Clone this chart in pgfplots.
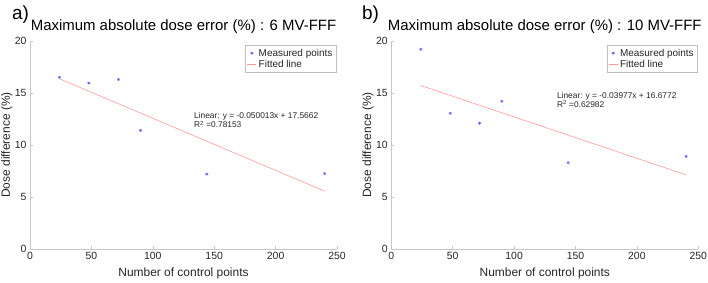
\documentclass[border=0pt]{standalone}
\usepackage{fontspec}
\setmainfont{Liberation Sans}
\usepackage{pgfplots}
\pgfplotsset{compat=1.18}
\definecolor{axgray}{gray}{0.78}
\definecolor{txtgray}{gray}{0.15}
\definecolor{mblue}{rgb}{0.35,0.35,1}
\definecolor{lred}{rgb}{1,0.6,0.6}
\begin{document}
\begin{tikzpicture}
\path[use as bounding box] (0bp,0bp) rectangle (708bp,283bp);
\pgfplotsset{
 mystyle/.style={
  width=307bp, height=208bp, scale only axis,
  anchor=south west,
  xmin=0,xmax=250,ymin=0,ymax=20,
  axis lines*=left,
  axis line style={draw=axgray, line width=0.6bp},
  xtick={0,50,...,250}, ytick={0,5,...,20},
  tick align=inside, major tick length=2.5bp,
  tick style={draw=axgray, line width=0.6bp},
  ticklabel style={font=\fontsize{10.5}{12}\selectfont, text=txtgray},
  /pgf/number format/assume math mode=true,
  xlabel={Number of control points}, ylabel={Dose difference (\%)},
  xlabel style={at={(axis description cs:0.5,-0.117)}, anchor=center, font=\fontsize{12}{14}\selectfont, text=txtgray},
  ylabel style={at={(axis description cs:-0.076,0.5)}, anchor=center, font=\fontsize{12}{14}\selectfont, text=txtgray},
  title style={font=\fontsize{15}{17}\selectfont, at={(axis description cs:0.5,1)}, anchor=base, yshift=5bp},
  legend style={at={(0.997,0.98)}, anchor=north east, draw=black!25, font=\fontsize{10}{11.5}\selectfont, inner sep=1.5bp, row sep=-1.5bp, text=txtgray},
  legend cell align=left,
  legend image code/.code={\draw[#1] (0bp,0bp) -- (9bp,0bp);},
 },
 ptstyle/.style={only marks, mark=asterisk, mark size=1.6bp, color=mblue, mark options={line width=0.5bp},
   legend image code/.code={\draw[mark repeat=2,mark phase=2] plot coordinates {(0bp,0bp) (4.5bp,0bp) (9bp,0bp)};}},
 lnstyle/.style={no marks, color=lred, line width=0.6bp},
}
\begin{axis}[mystyle, at={(30bp,34bp)}, title={Maximum absolute dose error (\%) : 6 MV-FFF}]
\addplot[ptstyle] coordinates {(24,16.5) (48,15.95) (72,16.3) (90,11.4) (144,7.2) (240,7.25)};
\addlegendentry{Measured points}
\addplot[lnstyle] coordinates {(24,16.3659) (240,5.5631)};
\addlegendentry{Fitted line}
\node[anchor=base west, font=\fontsize{8.4}{10}\selectfont, text=txtgray, inner sep=0pt] at (axis cs:133.5,12.5) {Linear: y = -0.050013x + 17.5662};
\node[anchor=base west, font=\fontsize{8.4}{10}\selectfont, text=txtgray, inner sep=0pt] at (axis cs:133.5,11.65) {R\textsuperscript{2} =0.78153};
\end{axis}
\begin{axis}[mystyle, at={(391.3bp,34bp)}, title={Maximum absolute dose error (\%) : 10 MV-FFF}]
\addplot[ptstyle] coordinates {(24,19.2) (48,13.05) (72,12.1) (90,14.2) (144,8.3) (240,8.9)};
\addlegendentry{Measured points}
\addplot[lnstyle] coordinates {(24,15.7227) (240,7.1324)};
\addlegendentry{Fitted line}
\node[anchor=base west, font=\fontsize{8.4}{10}\selectfont, text=txtgray, inner sep=0pt] at (axis cs:134.8,14.5) {Linear: y = -0.03977x + 16.6772};
\node[anchor=base west, font=\fontsize{8.4}{10}\selectfont, text=txtgray, inner sep=0pt] at (axis cs:134.8,13.65) {R\textsuperscript{2} =0.62982};
\end{axis}
\node[anchor=base west, font=\fontsize{19}{21}\selectfont, inner sep=0pt] at (12bp,263bp) {a)};
\node[anchor=base west, font=\fontsize{19}{21}\selectfont, inner sep=0pt] at (362bp,263bp) {b)};
\end{tikzpicture}
\end{document}
